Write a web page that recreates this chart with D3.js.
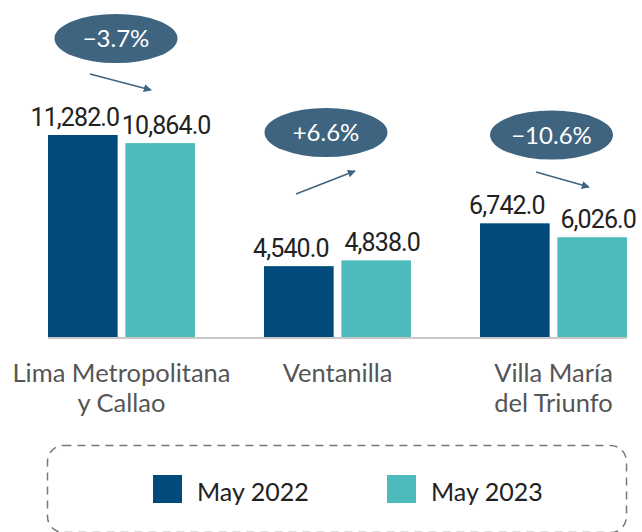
<!DOCTYPE html>
<html>
<head>
<meta charset="utf-8">
<script src="https://cdn.jsdelivr.net/npm/d3@7"></script>
<style>
  html, body { margin: 0; padding: 0; background: #fff; }
  svg { display: block; font-family: Lato, Roboto, "Noto Sans", sans-serif; }
</style>
</head>
<body>
<svg id="chart" width="642" height="532"></svg>
<script>
// ---- data ----
const categories = [["Lima Metropolitana", "y Callao"], ["Ventanilla"], ["Villa María", "del Triunfo"]];
const seriesNames = ["May 2022", "May 2023"];
const may2022 = [11282.0, 4540.0, 6742.0];
const may2023 = [10864.0, 4838.0, 6026.0];

// ---- layout (not data) ----
const colors = ["#004a7c", "#4dbabc"];
const bubbleColor = "#3f6480";
const labelDx = [-8, 6];
const annotLayout = [
  { dx: -5.5, cy: 38.5, ax1: 90, ay1: 74, ax2: 151, ay2: 90 },
  { dx: -11.5, cy: 132.5, ax1: 296, ay1: 194, ax2: 355, ay2: 171 },
  { dx: -2, cy: 135, ax1: 536, ay1: 172, ax2: 589, ay2: 187 }
];

const svg = d3.select("#chart");
const catKeys = categories.map(c => c.join(" "));
const series = [may2022, may2023];

const x0 = d3.scaleBand().domain(catKeys).range([13.5, 661.5]).paddingInner(0).paddingOuter(0);
const innerW = 147;
const x1 = d3.scaleBand().domain(seriesNames).range([0, innerW]).paddingInner(0.1);
const y = d3.scaleLinear().domain([900, 12000]).range([337, 121]);
const baseY = y(900);

const fmt = d3.format(",.1f");
const pct = d3.format("+.1%");

// baseline
const firstLeft = x0(catKeys[0]) + x0.bandwidth() / 2 - innerW / 2;
const lastRight = x0(catKeys[catKeys.length - 1]) + x0.bandwidth() / 2 + innerW / 2;
svg.append("line")
  .attr("x1", firstLeft).attr("x2", lastRight)
  .attr("y1", baseY + 1).attr("y2", baseY + 1)
  .attr("stroke", "#c8c8c8").attr("stroke-width", 2);

// bars
const groups = svg.selectAll("g.grp").data(catKeys).join("g")
  .attr("class", "grp")
  .attr("transform", d => `translate(${x0(d) + x0.bandwidth() / 2 - innerW / 2},0)`);

groups.each(function(cat, i) {
  const g = d3.select(this);
  const vals = seriesNames.map((s, j) => ({ s, j, v: series[j][i] }));
  g.selectAll("rect").data(vals).join("rect")
    .attr("x", d => x1(d.s))
    .attr("width", x1.bandwidth())
    .attr("y", d => y(d.v))
    .attr("height", d => baseY - y(d.v))
    .attr("fill", d => colors[d.j]);
  g.selectAll("text.val").data(vals).join("text")
    .attr("class", "val")
    .attr("x", d => x1(d.s) + x1.bandwidth() / 2 + labelDx[d.j])
    .attr("y", d => y(d.v) - 9)
    .attr("text-anchor", "middle")
    .attr("font-family", "Roboto, Lato, sans-serif")
    .attr("font-size", 25)
    .attr("letter-spacing", -0.9)
    .attr("fill", "#222")
    .text(d => fmt(d.v));
});

// category labels
categories.forEach((lines, i) => {
  const cx = x0(catKeys[i]) + x0.bandwidth() / 2;
  const t = svg.append("text")
    .attr("text-anchor", "middle")
    .attr("font-size", 25.5)
    .attr("fill", "#555");
  lines.forEach((ln, k) => {
    t.append("tspan").attr("x", cx).attr("y", 382 + k * 30).text(ln);
  });
});

// annotation bubbles & arrows
const defs = svg.append("defs");
defs.append("marker")
  .attr("id", "ah").attr("viewBox", "0 0 10 10")
  .attr("refX", 9).attr("refY", 5)
  .attr("markerWidth", 5).attr("markerHeight", 5)
  .attr("orient", "auto")
  .append("path").attr("d", "M0,0 L10,5 L0,10 z").attr("fill", bubbleColor);

catKeys.forEach((cat, i) => {
  const L = annotLayout[i];
  const cx = x0(cat) + x0.bandwidth() / 2 + L.dx;
  const change = (may2023[i] - may2022[i]) / may2022[i];
  svg.append("ellipse")
    .attr("cx", cx).attr("cy", L.cy)
    .attr("rx", 61.5).attr("ry", 24.5)
    .attr("fill", bubbleColor);
  svg.append("text")
    .attr("x", cx).attr("y", L.cy)
    .attr("dy", "0.36em")
    .attr("text-anchor", "middle")
    .attr("font-size", 24)
    .attr("fill", "#fff")
    .text(pct(change));
  svg.append("line")
    .attr("x1", L.ax1).attr("y1", L.ay1)
    .attr("x2", L.ax2).attr("y2", L.ay2)
    .attr("stroke", bubbleColor).attr("stroke-width", 1.6)
    .attr("marker-end", "url(#ah)");
});

// legend
svg.append("rect")
  .attr("x", 47.5).attr("y", 445.5)
  .attr("width", 579).attr("height", 87)
  .attr("rx", 16).attr("ry", 16)
  .attr("fill", "none")
  .attr("stroke", "#777").attr("stroke-width", 1.5)
  .attr("stroke-dasharray", "8,6");

const legX = [153, 387];
seriesNames.forEach((s, j) => {
  svg.append("rect")
    .attr("x", legX[j]).attr("y", 475)
    .attr("width", 29).attr("height", 28)
    .attr("fill", colors[j]);
  svg.append("text")
    .attr("x", legX[j] + 44).attr("y", 501)
    .attr("font-size", 25)
    .attr("fill", "#222")
    .text(s);
});
</script>
</body>
</html>
